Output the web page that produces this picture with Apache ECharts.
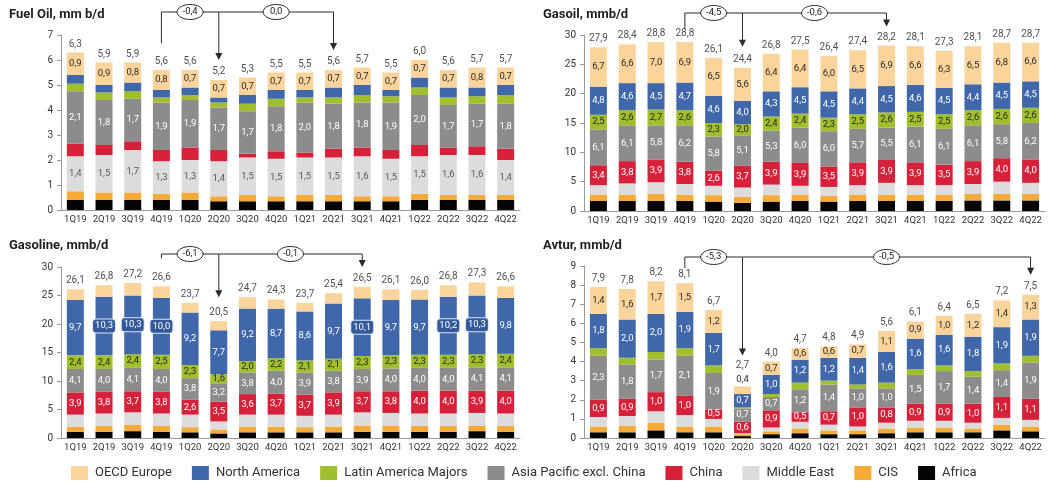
<!DOCTYPE html>
<html>
<head>
<meta charset="utf-8">
<script src="https://cdn.jsdelivr.net/npm/echarts@6/dist/echarts.min.js"></script>
<style>
  html, body { margin: 0; padding: 0; background: #fff; }
  #chart { width: 1051px; height: 489px; }
</style>
</head>
<body>
<div id="chart"></div>
<script>
// Quarterly demand by region, four products (stacked from Africa at the bottom to OECD Europe on top)
const quarters = ['1Q19','2Q19','3Q19','4Q19','1Q20','2Q20','3Q20','4Q20','1Q21','2Q21','3Q21','4Q21','1Q22','2Q22','3Q22','4Q22'];

// Fuel Oil, mm b/d
const foAfrica   = [0.4,0.4,0.4,0.4,0.4,0.35,0.35,0.35,0.35,0.35,0.35,0.35,0.4,0.4,0.4,0.4];
const foCIS      = [0.35,0.3,0.3,0.25,0.3,0.2,0.25,0.2,0.25,0.25,0.2,0.2,0.25,0.2,0.2,0.2];
const foMidEast  = [1.4,1.5,1.7,1.3,1.3,1.4,1.5,1.5,1.5,1.5,1.6,1.5,1.5,1.6,1.6,1.4];
const foChina    = [0.5,0.4,0.35,0.45,0.5,0.45,0.15,0.3,0.2,0.35,0.35,0.35,0.45,0.3,0.35,0.45];
const foAsiaPac  = [2.1,1.8,1.7,1.9,1.9,1.7,1.7,1.8,2.0,1.8,1.8,1.9,2.0,1.7,1.7,1.8];
const foLatAm    = [0.3,0.3,0.3,0.2,0.2,0.2,0.3,0.3,0.2,0.25,0.3,0.25,0.3,0.3,0.3,0.35];
const foNorthAm  = [0.35,0.3,0.35,0.3,0.3,0.2,0.35,0.35,0.3,0.4,0.4,0.25,0.4,0.4,0.35,0.4];
const foEurope   = [0.9,0.9,0.8,0.8,0.7,0.7,0.7,0.7,0.7,0.7,0.7,0.7,0.7,0.7,0.8,0.7];

// Gasoil, mmb/d
const goAfrica   = [1.7,1.7,1.7,1.7,1.6,1.4,1.6,1.7,1.6,1.7,1.7,1.7,1.7,1.8,1.8,1.8];
const goCIS      = [1.1,1.1,1.2,1.1,1.1,1.0,1.1,1.1,1.0,1.1,1.1,1.1,1.1,1.1,1.1,1.1];
const goMidEast  = [1.6,1.9,2.0,1.8,1.6,1.6,1.8,1.5,1.5,1.6,2.0,1.6,1.6,1.7,2.1,1.9];
const goChina    = [3.4,3.8,3.9,3.8,2.6,3.7,3.9,3.9,3.5,3.9,3.9,3.9,3.5,3.9,4.0,4.0];
const goAsiaPac  = [6.1,6.1,5.8,6.2,5.8,5.1,5.3,6.0,6.0,5.7,5.5,6.1,6.1,6.1,5.8,6.2];
const goLatAm    = [2.5,2.6,2.7,2.6,2.3,2.0,2.4,2.4,2.3,2.5,2.6,2.5,2.5,2.6,2.6,2.6];
const goNorthAm  = [4.8,4.6,4.5,4.7,4.6,4.0,4.3,4.5,4.5,4.4,4.5,4.6,4.5,4.4,4.5,4.5];
const goEurope   = [6.7,6.6,7.0,6.9,6.5,5.6,6.4,6.4,6.0,6.5,6.9,6.6,6.3,6.5,6.8,6.6];

// Gasoline, mmb/d
const glAfrica   = [1.1,1.1,1.2,1.1,1.0,0.8,1.0,1.0,1.0,1.0,1.1,1.1,1.1,1.1,1.2,1.1];
const glCIS      = [0.9,1.0,1.1,1.0,0.9,0.7,1.0,1.0,0.9,1.0,1.1,1.1,1.0,1.0,1.0,1.0];
const glMidEast  = [2.1,2.2,2.2,2.2,2.2,1.4,2.1,2.1,2.0,2.1,2.3,2.2,2.2,2.2,2.2,2.2];
const glChina    = [3.9,3.8,3.7,3.8,2.6,3.5,3.6,3.7,3.7,3.9,3.7,3.8,4.0,4.0,3.9,4.0];
const glAsiaPac  = [4.1,4.0,4.1,4.0,3.8,3.2,3.8,4.0,3.9,3.8,3.9,4.0,4.0,4.0,4.1,4.1];
const glLatAm    = [2.4,2.4,2.4,2.5,2.3,1.6,2.0,2.2,2.1,2.1,2.3,2.3,2.3,2.3,2.3,2.4];
const glNorthAm  = [9.7,10.3,10.3,10.0,9.2,7.7,9.2,8.7,8.6,9.7,10.1,9.7,9.7,10.2,10.3,9.8];
const glEurope   = [1.9,2.0,2.2,2.0,1.7,1.6,2.0,1.6,1.5,1.8,2.0,1.9,1.7,2.0,2.3,2.0];

// Avtur, mmb/d
const avAfrica   = [0.3,0.3,0.4,0.3,0.3,0.1,0.2,0.25,0.2,0.2,0.25,0.3,0.3,0.3,0.4,0.35];
const avCIS      = [0.3,0.35,0.4,0.3,0.3,0.1,0.15,0.25,0.2,0.2,0.25,0.25,0.25,0.2,0.3,0.25];
const avMidEast  = [0.5,0.5,0.6,0.6,0.4,0.05,0.2,0.35,0.3,0.2,0.3,0.35,0.35,0.3,0.35,0.35];
const avChina    = [0.9,0.9,1.0,1.0,0.5,0.6,0.9,0.5,0.7,1.0,0.8,0.9,0.9,1.0,1.1,1.1];
const avAsiaPac  = [2.3,1.8,1.7,2.1,1.9,0.7,0.7,1.2,1.4,1.0,1.0,1.5,1.7,1.4,1.4,1.9];
const avLatAm    = [0.4,0.35,0.4,0.4,0.4,0.05,0.15,0.35,0.2,0.2,0.3,0.3,0.3,0.3,0.35,0.35];
const avNorthAm  = [1.8,2.0,2.0,1.9,1.7,0.7,1.0,1.2,1.2,1.4,1.6,1.6,1.6,1.8,1.9,1.9];
const avEurope   = [1.4,1.6,1.7,1.5,1.2,0.4,0.7,0.6,0.6,0.7,1.1,0.9,1.0,1.2,1.4,1.3];

// Change call-outs: from 4Q19 to the marked quarters
const foChanges = ['-0,4', '0,0'];
const goChanges = ['-4,5', '-0,6'];
const glChanges = ['-6,1', '-0,1'];
const avChanges = ['-5,3', '-0,5'];

const yTicksFuelOil = { max: 7, interval: 1 };
const yTicksGasoil = { max: 30, interval: 5 };
const yTicksGasoline = { max: 30, interval: 5 };
const yTicksAvtur = { max: 9, interval: 1 };

// ---------------------------------------------------------------------------
const FONT = 'Roboto, "Open Sans", sans-serif';
const regions = ['Africa', 'CIS', 'Middle East', 'China', 'Asia Pacific excl. China',
                 'Latin America Majors', 'North America', 'OECD Europe'];
const legendOrder = ['OECD Europe', 'North America', 'Latin America Majors', 'Asia Pacific excl. China',
                     'China', 'Middle East', 'CIS', 'Africa'];
const colors = {
  'OECD Europe': '#fbd49c',
  'North America': '#3f67a9',
  'Latin America Majors': '#a0bf2c',
  'Asia Pacific excl. China': '#8d8b8c',
  'China': '#d7203a',
  'Middle East': '#dcdcdc',
  'CIS': '#f6aa38',
  'Africa': '#050505'
};
const labelInk = { dark: '#2a2a2a', light: '#ffffff', mid: '#5a5a5a' };

const fmt = v => (Math.round(v * 10) / 10).toFixed(1).replace('.', ',');

const panels = [
  {
    title: 'Fuel Oil, mm b/d', titleLeft: 4, titleTop: 3,
    grid: { left: 61, top: 35, width: 459, height: 175 }, ticks: yTicksFuelOil, stack: 'fuelOil',
    values: [foAfrica, foCIS, foMidEast, foChina, foAsiaPac, foLatAm, foNorthAm, foEurope],
    labelled: { 'OECD Europe': 'dark', 'Asia Pacific excl. China': 'light', 'Middle East': 'mid' },
    changes: foChanges, stops: [5, 9], lineY: 12, startGap: 27, tipGaps: [20, 20]
  },
  {
    title: 'Gasoil, mmb/d', titleLeft: 538, titleTop: 3,
    grid: { left: 584, top: 35, width: 461, height: 176 }, ticks: yTicksGasoil, stack: 'gasoil',
    values: [goAfrica, goCIS, goMidEast, goChina, goAsiaPac, goLatAm, goNorthAm, goEurope],
    labelled: { 'OECD Europe': 'dark', 'North America': 'light', 'Latin America Majors': 'dark',
                'Asia Pacific excl. China': 'light', 'China': 'light' },
    changes: goChanges, stops: [5, 10], lineY: 13, startGap: 13, tipGaps: [21, 19]
  },
  {
    title: 'Gasoline, mmb/d', titleLeft: 4, titleTop: 234,
    grid: { left: 61, top: 267, width: 459, height: 171 }, ticks: yTicksGasoline, stack: 'gasoline',
    values: [glAfrica, glCIS, glMidEast, glChina, glAsiaPac, glLatAm, glNorthAm, glEurope],
    labelled: { 'North America': 'light', 'Latin America Majors': 'dark',
                'Asia Pacific excl. China': 'light', 'China': 'light' },
    boxedFrom: 10, changes: glChanges, stops: [5, 10], lineY: 254, startGap: 28, tipGaps: [24, 20]
  },
  {
    title: 'Avtur, mmb/d', titleLeft: 538, titleTop: 234,
    grid: { left: 584, top: 266, width: 461, height: 172 }, ticks: yTicksAvtur, stack: 'avtur',
    values: [avAfrica, avCIS, avMidEast, avChina, avAsiaPac, avLatAm, avNorthAm, avEurope],
    labelled: { 'OECD Europe': 'dark', 'North America': 'light',
                'Asia Pacific excl. China': 'light', 'China': 'light' },
    raisedLabel: 5, changes: avChanges, stops: [5, 15], lineY: 257, startGap: 15, tipGaps: [31, 20]
  }
];

const totalsOf = p => quarters.map((q, i) => Math.round(p.values.reduce((s, arr) => s + arr[i], 0) * 10) / 10);

const option = {
  animation: false,
  textStyle: { fontFamily: FONT },
  title: panels.map(p => ({
    text: p.title, left: p.titleLeft, top: p.titleTop,
    textStyle: { fontFamily: FONT, fontSize: 13, fontWeight: 'bold', color: '#1f1f1f' }
  })),
  legend: {
    data: legendOrder, left: 66, top: 461, itemWidth: 17, itemHeight: 14, itemGap: 20,
    icon: 'rect', selectedMode: false,
    textStyle: { fontFamily: FONT, fontSize: 13, color: '#333', padding: [0, 0, 0, 2] }
  },
  grid: panels.map(p => Object.assign({ containLabel: false }, p.grid)),
  xAxis: panels.map((p, i) => ({
    type: 'category', gridIndex: i, data: quarters,
    axisLine: { lineStyle: { color: '#9a9a9a' } }, axisTick: { show: false },
    axisLabel: { interval: 0, fontSize: 9.5, color: '#333', margin: 5, fontFamily: FONT }
  })),
  yAxis: panels.map((p, i) => ({
    type: 'value', gridIndex: i, min: 0, max: p.ticks.max, interval: p.ticks.interval,
    splitLine: { show: false },
    axisLine: { show: true, lineStyle: { color: '#9a9a9a' } },
    axisTick: { show: true, length: 4, lineStyle: { color: '#9a9a9a' } },
    axisLabel: { fontSize: 10, color: '#333', margin: 8, fontFamily: FONT }
  })),
  series: []
};

panels.forEach((p, gi) => {
  regions.forEach((r, ri) => {
    const ink = p.labelled[r];
    const data = p.values[ri].map((v, qi) => {
      const item = { value: v };
      if (ink && p.boxedFrom !== undefined && v >= p.boxedFrom) {
        item.label = { backgroundColor: '#34599a', borderColor: '#dde5f2', borderWidth: 1,
                       borderRadius: 3, padding: [2, 2, 1, 2] };
      }
      if (ink && p.raisedLabel === qi && r === 'OECD Europe') {
        item.label = { position: 'top', distance: 2 };
      }
      return item;
    });
    option.series.push({
      type: 'bar', name: r, stack: p.stack, xAxisIndex: gi, yAxisIndex: gi,
      barWidth: 17, silent: true,
      itemStyle: { color: colors[r] },
      label: ink ? {
        show: true, position: 'inside', color: labelInk[ink], fontSize: 9.5, fontFamily: FONT,
        formatter: d => fmt(d.value)
      } : { show: false },
      data
    });
  });
  // totals written above each column
  const totals = totalsOf(p);
  option.series.push({
    type: 'scatter', name: p.title + ' total', xAxisIndex: gi, yAxisIndex: gi, silent: true,
    symbol: 'rect', symbolSize: 1, itemStyle: { color: 'rgba(0,0,0,0)' }, z: 5,
    label: { show: true, position: 'top', distance: 3, color: '#222', fontSize: 10, fontFamily: FONT,
             formatter: d => fmt(d.value[1] !== undefined ? d.value[1] : d.value) },
    data: totals.map((t, qi) => {
      const item = { value: [qi, t] };
      if (p.raisedLabel === qi) item.label = { offset: [0, -12] };
      return item;
    })
  });
});

const chart = echarts.init(document.getElementById('chart'), null, { renderer: 'canvas' });
chart.setOption(option);

// Change call-outs drawn over the grid, anchored to the column tops
const graphics = [];
const INK = '#2b2b2b';
panels.forEach((p, gi) => {
  const totals = totalsOf(p);
  const top = qi => chart.convertToPixel({ gridIndex: gi }, [qi, totals[qi]]);
  const from = top(3);
  const a = top(p.stops[0]);
  const b = top(p.stops[1]);
  const tipA = a[1] - p.tipGaps[0];
  const tipB = b[1] - p.tipGaps[1];
  const line = { stroke: INK, lineWidth: 1, fill: null };
  graphics.push({ type: 'polyline', silent: true, z: 10,
    shape: { points: [[from[0], from[1] - p.startGap], [from[0], p.lineY], [b[0], p.lineY], [b[0], tipB - 6]] },
    style: line });
  graphics.push({ type: 'line', silent: true, z: 10,
    shape: { x1: a[0], y1: p.lineY, x2: a[0], y2: tipA - 6 }, style: line });
  [[a[0], tipA], [b[0], tipB]].forEach(([x, y]) => {
    graphics.push({ type: 'polygon', silent: true, z: 10,
      shape: { points: [[x - 3.5, y - 7], [x + 3.5, y - 7], [x, y]] }, style: { fill: INK } });
  });
  const centres = [(from[0] + a[0]) / 2, (a[0] + b[0]) / 2];
  centres.forEach((cx, k) => {
    graphics.push({ type: 'ellipse', silent: true, z: 11,
      shape: { cx, cy: p.lineY, rx: 13, ry: 7.5 }, style: { fill: '#fff', stroke: INK, lineWidth: 1 } });
    graphics.push({ type: 'text', silent: true, z: 12, x: cx, y: p.lineY,
      style: { text: p.changes[k], align: 'center', verticalAlign: 'middle',
               font: '9.5px ' + FONT, fill: '#222' } });
  });
});
chart.setOption({ graphic: graphics });
</script>
</body>
</html>
